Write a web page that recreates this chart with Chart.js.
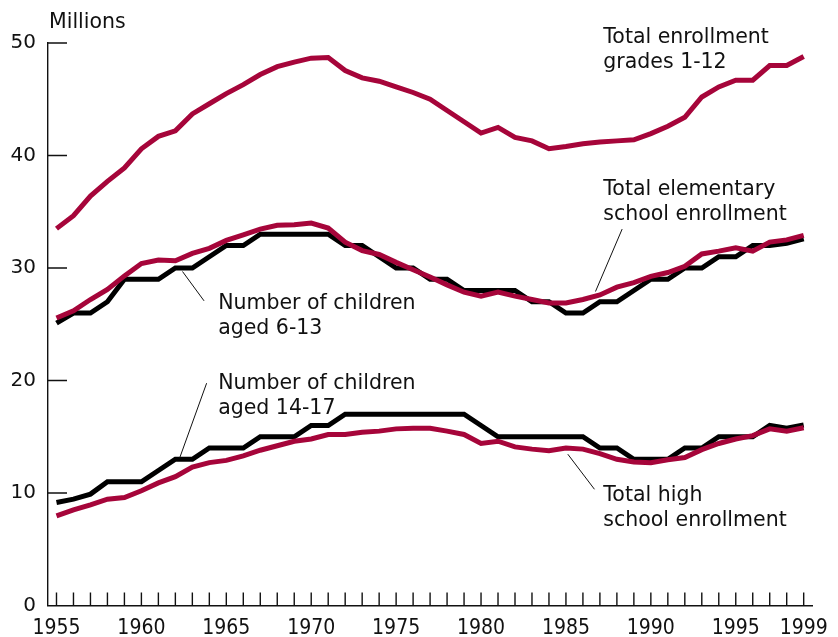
<!DOCTYPE html>
<html>
<head>
<meta charset="utf-8">
<title>School enrollment and population, 1955-1999</title>
<script src="https://cdn.jsdelivr.net/npm/chart.js@4"></script>
<style>
  html, body { margin: 0; padding: 0; background: #fff; }
  #wrap { width: 838px; height: 637px; position: relative; }
</style>
</head>
<body>
<div id="wrap"><canvas id="chart-enrollment"></canvas></div>
<script>
// years on the x axis, one point per year
const years = []
for (let y = 1955; y <= 1999; y++) years.push(String(y))

// millions
const totalEnrollment = [33.5, 34.65, 36.4, 37.7, 38.9, 40.6, 41.7, 42.2, 43.7, 44.6,
  45.5, 46.3, 47.2, 47.9, 48.3, 48.65, 48.7, 47.55, 46.9, 46.6,
  46.1, 45.6, 45.0, 44.0, 43.0, 42.0, 42.5, 41.6, 41.3, 40.6,
  40.8, 41.05, 41.2, 41.3, 41.4, 41.95, 42.6, 43.4, 45.2, 46.1,
  46.7, 46.7, 48.0, 48.0, 48.8]

const elementaryEnrollment = [25.55, 26.2, 27.2, 28.1, 29.3, 30.4, 30.7, 30.65, 31.3, 31.75,
  32.45, 32.95, 33.45, 33.8, 33.85, 34.0, 33.55, 32.3, 31.55, 31.2,
  30.5, 29.85, 29.2, 28.5, 27.85, 27.5, 27.85, 27.5, 27.2, 26.9,
  26.9, 27.2, 27.6, 28.3, 28.7, 29.25, 29.6, 30.15, 31.25, 31.5,
  31.8, 31.5, 32.3, 32.5, 32.9]

const children6to13 = [25.1, 26, 26, 27, 29, 29, 29, 30, 30, 31,
  32, 32, 33, 33, 33, 33, 33, 32, 32, 31,
  30, 30, 29, 29, 28, 28, 28, 28, 27, 27,
  26, 26, 27, 27, 28, 29, 29, 30, 30, 31,
  31, 32, 32, 32.2, 32.6]

const children14to17 = [9.15, 9.45, 9.9, 11, 11, 11, 12, 13, 13, 14,
  14, 14, 15, 15, 15, 16, 16, 17, 17, 17,
  17, 17, 17, 17, 17, 16, 15, 15, 15, 15,
  15, 15, 14, 14, 13, 13, 13, 14, 14, 15,
  15, 15, 16, 15.75, 16.05]

const highSchoolEnrollment = [7.96, 8.5, 8.95, 9.45, 9.6, 10.2, 10.9, 11.45, 12.3, 12.7,
  12.9, 13.3, 13.8, 14.2, 14.6, 14.8, 15.2, 15.2, 15.4, 15.5,
  15.7, 15.75, 15.75, 15.5, 15.2, 14.4, 14.6, 14.1, 13.9, 13.75,
  14.0, 13.9, 13.5, 13.0, 12.75, 12.7, 12.95, 13.15, 13.85, 14.4,
  14.8, 15.1, 15.7, 15.5, 15.8]

const labeledYears = ["1955", "1960", "1965", "1970", "1975", "1980", "1985", "1990", "1995", "1999"]
const yTicks = [0, 10, 20, 30, 40, 50]

// callouts: [year, value] of the first baseline, then the leader line ends
const callouts = [
  { lines: ["Total enrollment", "grades 1-12"], at: [1987.2, 50.0] },
  { lines: ["Total elementary", "school enrollment"], at: [1987.2, 36.51], leader: [[1988.31, 33.46], [1986.74, 27.91]] },
  { lines: ["Number of children", "aged 6-13"], at: [1964.52, 26.34], leader: [[1962.42, 29.69], [1963.69, 27.08]] },
  { lines: ["Number of children", "aged 14-17"], at: [1964.52, 19.23], leader: [[1963.84, 19.76], [1962.26, 13.14]] },
  { lines: ["Total high", "school enrollment"], at: [1987.2, 9.32], leader: [[1986.68, 10.33], [1985.11, 13.45]] }
]

const RED = "#a6053a"
const INK = "#111"
const FONT = "'DejaVu Sans', Verdana, sans-serif"

function line(data, color, order) {
  return {
    data,
    borderColor: color,
    borderWidth: 5,
    pointRadius: 0,
    tension: 0,
    order
  }
}

const decorations = {
  id: "decorations",
  afterDatasetsDraw(chart) {
    const ctx = chart.ctx
    const x = chart.scales.x
    const y = chart.scales.y
    const px = yr => x.getPixelForValue(yr - 1955)

    ctx.save()
    ctx.strokeStyle = INK
    ctx.lineWidth = 1.4
    // inward tick marks
    ctx.beginPath()
    years.forEach((yr, i) => {
      const p = x.getPixelForValue(i)
      ctx.moveTo(p, y.bottom)
      ctx.lineTo(p, y.bottom - 13)
    })
    yTicks.filter(v => v > 0).forEach(v => {
      const p = y.getPixelForValue(v)
      ctx.moveTo(x.left, p)
      ctx.lineTo(x.left + 19, p)
    })
    ctx.stroke()

    // unit label
    ctx.fillStyle = INK
    ctx.font = "20.5px " + FONT
    ctx.textBaseline = "alphabetic"
    ctx.textAlign = "left"
    ctx.fillText("Millions", x.left + 1, 27.5)

    // callouts
    ctx.lineWidth = 1
    callouts.forEach(c => {
      const tx = px(c.at[0])
      const ty = y.getPixelForValue(c.at[1])
      c.lines.forEach((t, k) => ctx.fillText(t, tx, ty + k * 25))
      if (c.leader) {
        ctx.beginPath()
        ctx.moveTo(px(c.leader[0][0]), y.getPixelForValue(c.leader[0][1]))
        ctx.lineTo(px(c.leader[1][0]), y.getPixelForValue(c.leader[1][1]))
        ctx.stroke()
      }
    })
    ctx.restore()
  }
}

new Chart(document.getElementById("chart-enrollment"), {
  type: "line",
  data: {
    labels: years,
    datasets: [
      line(totalEnrollment, RED, 0),
      line(elementaryEnrollment, RED, 0),
      line(highSchoolEnrollment, RED, 0),
      line(children6to13, "#000", 1),
      line(children14to17, "#000", 1)
    ]
  },
  options: {
    responsive: true,
    maintainAspectRatio: false,
    animation: false,
    layout: { padding: { top: 43, right: 25, bottom: 0, left: 0 } },
    plugins: { legend: { display: false }, tooltip: { enabled: false } },
    scales: {
      x: {
        type: "category",
        offset: true,
        grid: { display: false, drawTicks: false },
        border: { display: true, color: INK, width: 1.4 },
        ticks: {
          autoSkip: false,
          maxRotation: 0,
          padding: 10,
          color: INK,
          font: { family: "'DejaVu Sans Condensed', 'Liberation Sans Narrow', sans-serif", size: 21 },
          callback: (v, i) => labeledYears.includes(years[i]) ? years[i] : ""
        },
        afterFit: s => { s.height = 31.5 }
      },
      y: {
        min: 0,
        max: 50,
        grid: { display: false, drawTicks: false },
        border: { display: true, color: INK, width: 1.4 },
        ticks: {
          stepSize: 10,
          padding: 12,
          color: INK,
          font: { family: FONT, size: 20 }
        },
        afterFit: s => { s.width = 48 }
      }
    }
  },
  plugins: [decorations]
})
</script>
</body>
</html>
